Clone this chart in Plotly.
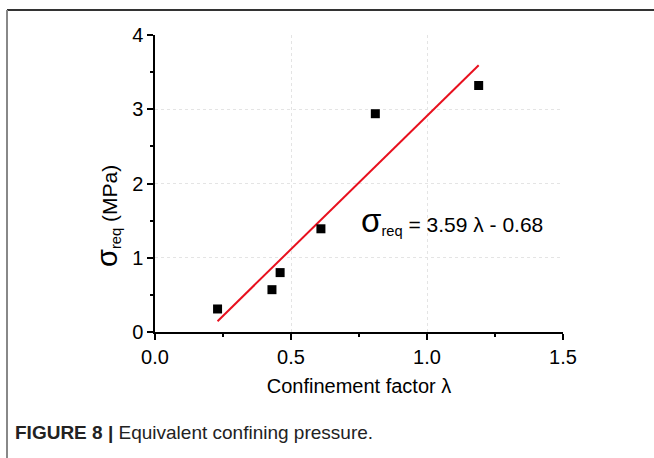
import plotly.graph_objects as go

# Data
lam = [0.23, 0.43, 0.46, 0.61, 0.81, 1.19]
sigma_req = [0.31, 0.57, 0.80, 1.39, 2.94, 3.32]
fit_slope = 3.59
fit_intercept = -0.68
fit_x = [0.23, 1.19]
fit_y = [fit_slope * v + fit_intercept for v in fit_x]

W, H = 654, 458
L, R, T, B = 155, 91, 35, 126
pw, ph = W - L - R, H - T - B

def px(x):
    return (x - L) / pw

def py(y):
    return (H - B - y) / ph

FONT = "Liberation Sans, Arial, sans-serif"

fig = go.Figure()
fig.add_trace(go.Scatter(x=fit_x, y=fit_y, mode="lines",
                         line=dict(color="#e8101e", width=2), showlegend=False))
fig.add_trace(go.Scatter(x=lam, y=sigma_req, mode="markers",
                         marker=dict(symbol="square", size=9, color="black"),
                         showlegend=False))

axis_common = dict(
    showline=True, linecolor="black", linewidth=1.5,
    ticks="outside", ticklen=6, tickwidth=1.5, tickcolor="black",
    showgrid=True, gridcolor="#e4e4e4", griddash="dot", gridwidth=1,
    zeroline=False, mirror=False,
    tickfont=dict(family=FONT, size=20, color="black"),
)

fig.update_xaxes(range=[0, 1.5], dtick=0.5, tickformat=".1f",
                 minor=dict(dtick=0.25, ticks="outside", ticklen=3, tickcolor="black", showgrid=False),
                 title=dict(text="Confinement factor λ", font=dict(family=FONT, size=20, color="black"), standoff=12),
                 **axis_common)
fig.update_yaxes(range=[0, 4], dtick=1,
                 minor=dict(dtick=0.5, ticks="outside", ticklen=3, tickcolor="black", showgrid=False),
                 **axis_common)

fig.add_annotation(x=px(107), y=py(216), xref="paper", yref="paper", xanchor="center", yanchor="middle",
                   textangle=-90,
                   text="<span style='font-size:29px'>σ</span><sub>req</sub> (MPa)",
                   showarrow=False, font=dict(family=FONT, size=21, color="black"))

fig.add_annotation(x=0.75, y=1.5, xref="x", yref="y", xanchor="left", yanchor="middle",
                   text="<span style='font-size:33px'>σ</span><sub>req</sub> = 3.59 λ - 0.68",
                   showarrow=False, font=dict(family=FONT, size=21, color="black"))

fig.add_annotation(x=px(13), y=py(432), xref="paper", yref="paper", xanchor="left", yanchor="middle",
                   text="<b>FIGURE 8 |</b> Equivalent confining pressure.",
                   showarrow=False, font=dict(family=FONT, size=19, color="#222"))

fig.add_shape(type="line", xref="paper", yref="paper", x0=px(7), x1=px(654), y0=py(10), y1=py(10),
              line=dict(color="#333", width=2))
fig.add_shape(type="line", xref="paper", yref="paper", x0=px(7), x1=px(7), y0=py(10), y1=py(458),
              line=dict(color="#888", width=2))

fig.update_layout(width=W, height=H, margin=dict(l=L, r=R, t=T, b=B),
                  paper_bgcolor="white", plot_bgcolor="white",
                  font=dict(family=FONT))

fig.write_html("out.html")
